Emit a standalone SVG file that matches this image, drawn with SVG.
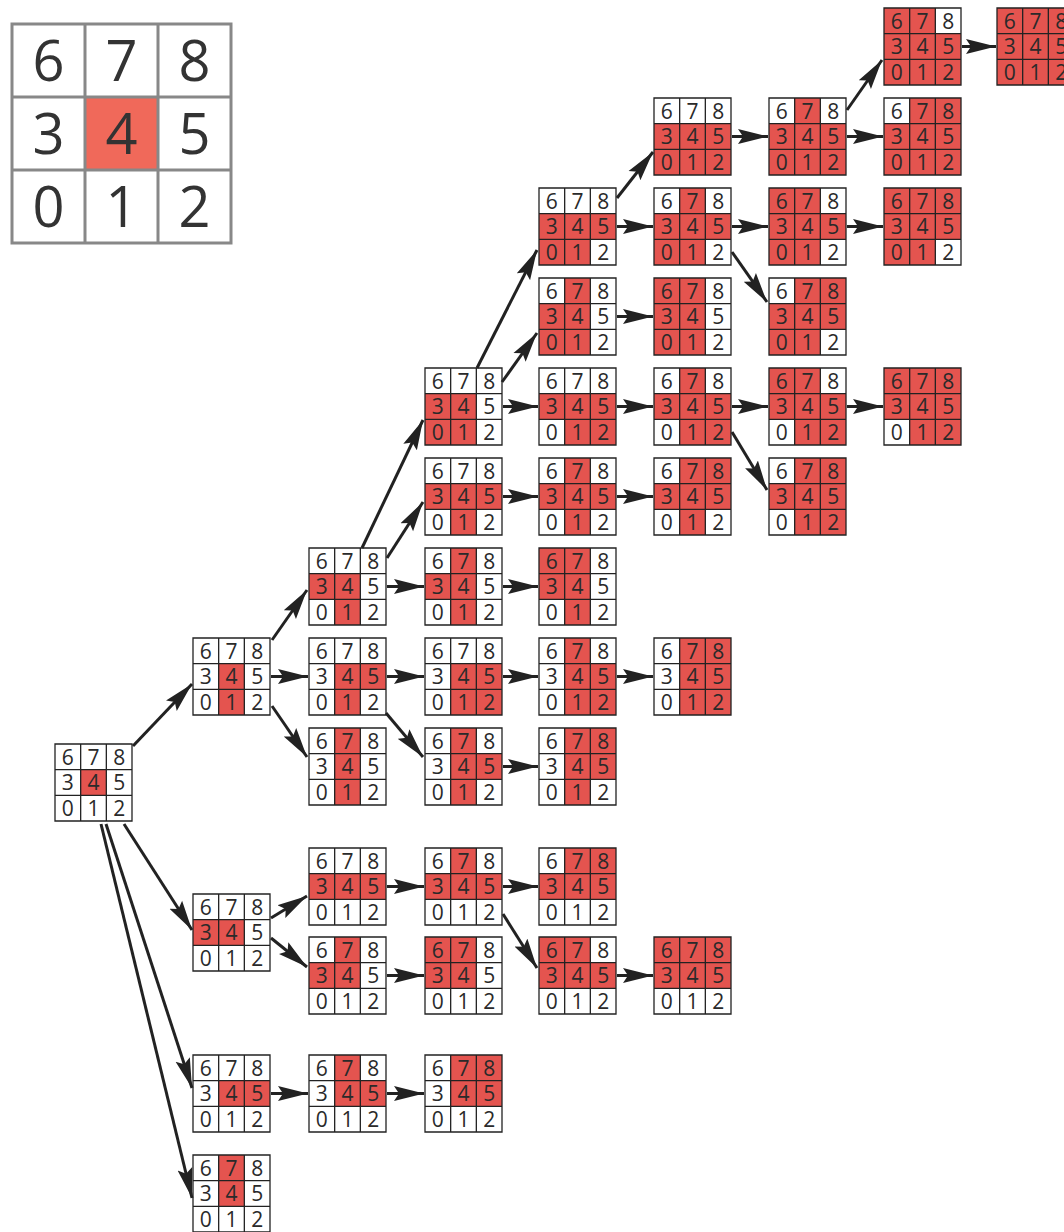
<svg xmlns="http://www.w3.org/2000/svg" xmlns:xlink="http://www.w3.org/1999/xlink" width="1064" height="1232" viewBox="0 0 1064 1232">
<style>
.t{font-family:"Open Sans","Noto Sans","Liberation Sans",sans-serif;font-size:21px;fill:#2a2a2a;text-anchor:middle}
.bt{font-family:"Open Sans","Noto Sans","Liberation Sans",sans-serif;font-size:56px;fill:#333;text-anchor:middle}
.r{fill:#e4544f}
.grid{fill:none;stroke:#222;stroke-width:1.3}
.edge{stroke:#222;stroke-width:3;fill:none;marker-end:url(#ah)}
</style>
<defs>
<marker id="ah" markerUnits="userSpaceOnUse" markerWidth="32" markerHeight="16" viewBox="0 0 32 16" refX="30" refY="8" orient="auto">
<path d="M0,0.5 L30,8 L0,15.5 L5,8 Z" fill="#222"/>
</marker>
<rect id="c6" class="r" x="0" y="0" width="25.67" height="25.67"/>
<rect id="c7" class="r" x="25.67" y="0" width="25.67" height="25.67"/>
<rect id="c8" class="r" x="51.33" y="0" width="25.67" height="25.67"/>
<rect id="c3" class="r" x="0" y="25.67" width="25.67" height="25.67"/>
<rect id="c4" class="r" x="25.67" y="25.67" width="25.67" height="25.67"/>
<rect id="c5" class="r" x="51.33" y="25.67" width="25.67" height="25.67"/>
<rect id="c0" class="r" x="0" y="51.33" width="25.67" height="25.67"/>
<rect id="c1" class="r" x="25.67" y="51.33" width="25.67" height="25.67"/>
<rect id="c2" class="r" x="51.33" y="51.33" width="25.67" height="25.67"/>
<path id="gr" class="grid" d="M0,0H77V77H0Z M25.67,0V77 M51.33,0V77 M0,25.67H77 M0,51.33H77"/>
</defs>
<rect width="1064" height="1232" fill="#fff"/>

<g id="legend" transform="translate(12,24)">
<rect x="73" y="73" width="73" height="73" fill="#f0695a"/>
<path d="M0,0H219V219H0Z M73,0V219 M146,0V219 M0,73H219 M0,146H219" fill="none" stroke="#888" stroke-width="3"/>
<text class="bt" x="36.5 109.5 182.5" y="56.5">678</text>
<text class="bt" x="36.5 109.5 182.5" y="129.5">345</text>
<text class="bt" x="36.5 109.5 182.5" y="202.5">012</text>
</g>

<g id="connectors">
<line class="edge" x1="133" y1="746" x2="192" y2="684"/>
<line class="edge" x1="124" y1="824" x2="192" y2="930"/>
<line class="edge" x1="106" y1="824" x2="192" y2="1088"/>
<line class="edge" x1="101" y1="824" x2="192" y2="1198"/>
<line class="edge" x1="272" y1="640" x2="307" y2="590"/>
<line class="edge" x1="271" y1="676.5" x2="308" y2="676.5"/>
<line class="edge" x1="272" y1="706" x2="307" y2="757"/>
<line class="edge" x1="362" y1="548" x2="423" y2="420"/>
<line class="edge" x1="387" y1="558" x2="423" y2="502"/>
<line class="edge" x1="387" y1="586.5" x2="424" y2="586.5"/>
<line class="edge" x1="387" y1="676.5" x2="424" y2="676.5"/>
<line class="edge" x1="386" y1="713" x2="423" y2="757"/>
<line class="edge" x1="503" y1="676.5" x2="538" y2="676.5"/>
<line class="edge" x1="617" y1="676.5" x2="653" y2="676.5"/>
<line class="edge" x1="503" y1="766.5" x2="538" y2="766.5"/>
<line class="edge" x1="503" y1="586.5" x2="538" y2="586.5"/>
<line class="edge" x1="503" y1="496.5" x2="538" y2="496.5"/>
<line class="edge" x1="617" y1="496.5" x2="653" y2="496.5"/>
<line class="edge" x1="503" y1="406.5" x2="538" y2="406.5"/>
<line class="edge" x1="617" y1="406.5" x2="653" y2="406.5"/>
<line class="edge" x1="732" y1="406.5" x2="768" y2="406.5"/>
<line class="edge" x1="847" y1="406.5" x2="883" y2="406.5"/>
<line class="edge" x1="502" y1="382" x2="537" y2="333"/>
<line class="edge" x1="477" y1="368" x2="537" y2="250"/>
<line class="edge" x1="732" y1="432" x2="767" y2="490"/>
<line class="edge" x1="617" y1="316.5" x2="653" y2="316.5"/>
<line class="edge" x1="617" y1="226.5" x2="653" y2="226.5"/>
<line class="edge" x1="732" y1="226.5" x2="768" y2="226.5"/>
<line class="edge" x1="847" y1="226.5" x2="883" y2="226.5"/>
<line class="edge" x1="617" y1="198" x2="653" y2="152"/>
<line class="edge" x1="732" y1="252" x2="767" y2="302"/>
<line class="edge" x1="732" y1="136.5" x2="768" y2="136.5"/>
<line class="edge" x1="847" y1="136.5" x2="883" y2="136.5"/>
<line class="edge" x1="847" y1="110" x2="882" y2="60"/>
<line class="edge" x1="962" y1="46.5" x2="996" y2="46.5"/>
<line class="edge" x1="271" y1="918" x2="307" y2="896"/>
<line class="edge" x1="271" y1="938" x2="307" y2="967"/>
<line class="edge" x1="387" y1="886.5" x2="424" y2="886.5"/>
<line class="edge" x1="503" y1="886.5" x2="538" y2="886.5"/>
<line class="edge" x1="503" y1="914" x2="537" y2="968"/>
<line class="edge" x1="387" y1="975.5" x2="424" y2="975.5"/>
<line class="edge" x1="617" y1="975.5" x2="653" y2="975.5"/>
<line class="edge" x1="271" y1="1093.5" x2="308" y2="1093.5"/>
<line class="edge" x1="387" y1="1093.5" x2="424" y2="1093.5"/>
</g>

<g id="n0" transform="translate(55,744)"><use href="#c4"/><use href="#gr"/><text class="t" x="12.8 38.5 64.2" y="20.5">678</text><text class="t" x="12.8 38.5 64.2" y="46.2">345</text><text class="t" x="12.8 38.5 64.2" y="71.8">012</text></g>
<g id="n1" transform="translate(193,638)"><use href="#c4"/><use href="#c1"/><use href="#gr"/><text class="t" x="12.8 38.5 64.2" y="20.5">678</text><text class="t" x="12.8 38.5 64.2" y="46.2">345</text><text class="t" x="12.8 38.5 64.2" y="71.8">012</text></g>
<g id="n2" transform="translate(193,894)"><use href="#c3"/><use href="#c4"/><use href="#gr"/><text class="t" x="12.8 38.5 64.2" y="20.5">678</text><text class="t" x="12.8 38.5 64.2" y="46.2">345</text><text class="t" x="12.8 38.5 64.2" y="71.8">012</text></g>
<g id="n3" transform="translate(193,1055)"><use href="#c4"/><use href="#c5"/><use href="#gr"/><text class="t" x="12.8 38.5 64.2" y="20.5">678</text><text class="t" x="12.8 38.5 64.2" y="46.2">345</text><text class="t" x="12.8 38.5 64.2" y="71.8">012</text></g>
<g id="n4" transform="translate(193,1155)"><use href="#c7"/><use href="#c4"/><use href="#gr"/><text class="t" x="12.8 38.5 64.2" y="20.5">678</text><text class="t" x="12.8 38.5 64.2" y="46.2">345</text><text class="t" x="12.8 38.5 64.2" y="71.8">012</text></g>

<g id="n5" transform="translate(309,548)"><use href="#c3"/><use href="#c4"/><use href="#c1"/><use href="#gr"/><text class="t" x="12.8 38.5 64.2" y="20.5">678</text><text class="t" x="12.8 38.5 64.2" y="46.2">345</text><text class="t" x="12.8 38.5 64.2" y="71.8">012</text></g>
<g id="n6" transform="translate(309,638)"><use href="#c4"/><use href="#c5"/><use href="#c1"/><use href="#gr"/><text class="t" x="12.8 38.5 64.2" y="20.5">678</text><text class="t" x="12.8 38.5 64.2" y="46.2">345</text><text class="t" x="12.8 38.5 64.2" y="71.8">012</text></g>
<g id="n7" transform="translate(309,728)"><use href="#c7"/><use href="#c4"/><use href="#c1"/><use href="#gr"/><text class="t" x="12.8 38.5 64.2" y="20.5">678</text><text class="t" x="12.8 38.5 64.2" y="46.2">345</text><text class="t" x="12.8 38.5 64.2" y="71.8">012</text></g>
<g id="n8" transform="translate(309,848)"><use href="#c3"/><use href="#c4"/><use href="#c5"/><use href="#gr"/><text class="t" x="12.8 38.5 64.2" y="20.5">678</text><text class="t" x="12.8 38.5 64.2" y="46.2">345</text><text class="t" x="12.8 38.5 64.2" y="71.8">012</text></g>
<g id="n9" transform="translate(309,937)"><use href="#c7"/><use href="#c3"/><use href="#c4"/><use href="#gr"/><text class="t" x="12.8 38.5 64.2" y="20.5">678</text><text class="t" x="12.8 38.5 64.2" y="46.2">345</text><text class="t" x="12.8 38.5 64.2" y="71.8">012</text></g>
<g id="n10" transform="translate(309,1055)"><use href="#c7"/><use href="#c4"/><use href="#c5"/><use href="#gr"/><text class="t" x="12.8 38.5 64.2" y="20.5">678</text><text class="t" x="12.8 38.5 64.2" y="46.2">345</text><text class="t" x="12.8 38.5 64.2" y="71.8">012</text></g>

<g id="n11" transform="translate(425,368)"><use href="#c3"/><use href="#c4"/><use href="#c0"/><use href="#c1"/><use href="#gr"/><text class="t" x="12.8 38.5 64.2" y="20.5">678</text><text class="t" x="12.8 38.5 64.2" y="46.2">345</text><text class="t" x="12.8 38.5 64.2" y="71.8">012</text></g>
<g id="n12" transform="translate(425,458)"><use href="#c3"/><use href="#c4"/><use href="#c5"/><use href="#c1"/><use href="#gr"/><text class="t" x="12.8 38.5 64.2" y="20.5">678</text><text class="t" x="12.8 38.5 64.2" y="46.2">345</text><text class="t" x="12.8 38.5 64.2" y="71.8">012</text></g>
<g id="n13" transform="translate(425,548)"><use href="#c7"/><use href="#c3"/><use href="#c4"/><use href="#c1"/><use href="#gr"/><text class="t" x="12.8 38.5 64.2" y="20.5">678</text><text class="t" x="12.8 38.5 64.2" y="46.2">345</text><text class="t" x="12.8 38.5 64.2" y="71.8">012</text></g>
<g id="n14" transform="translate(425,638)"><use href="#c4"/><use href="#c5"/><use href="#c1"/><use href="#c2"/><use href="#gr"/><text class="t" x="12.8 38.5 64.2" y="20.5">678</text><text class="t" x="12.8 38.5 64.2" y="46.2">345</text><text class="t" x="12.8 38.5 64.2" y="71.8">012</text></g>
<g id="n15" transform="translate(425,728)"><use href="#c7"/><use href="#c4"/><use href="#c5"/><use href="#c1"/><use href="#gr"/><text class="t" x="12.8 38.5 64.2" y="20.5">678</text><text class="t" x="12.8 38.5 64.2" y="46.2">345</text><text class="t" x="12.8 38.5 64.2" y="71.8">012</text></g>
<g id="n16" transform="translate(425,848)"><use href="#c7"/><use href="#c3"/><use href="#c4"/><use href="#c5"/><use href="#gr"/><text class="t" x="12.8 38.5 64.2" y="20.5">678</text><text class="t" x="12.8 38.5 64.2" y="46.2">345</text><text class="t" x="12.8 38.5 64.2" y="71.8">012</text></g>
<g id="n17" transform="translate(425,937)"><use href="#c6"/><use href="#c7"/><use href="#c3"/><use href="#c4"/><use href="#gr"/><text class="t" x="12.8 38.5 64.2" y="20.5">678</text><text class="t" x="12.8 38.5 64.2" y="46.2">345</text><text class="t" x="12.8 38.5 64.2" y="71.8">012</text></g>
<g id="n18" transform="translate(425,1055)"><use href="#c7"/><use href="#c8"/><use href="#c4"/><use href="#c5"/><use href="#gr"/><text class="t" x="12.8 38.5 64.2" y="20.5">678</text><text class="t" x="12.8 38.5 64.2" y="46.2">345</text><text class="t" x="12.8 38.5 64.2" y="71.8">012</text></g>

<g id="n19" transform="translate(539,188)"><use href="#c3"/><use href="#c4"/><use href="#c5"/><use href="#c0"/><use href="#c1"/><use href="#gr"/><text class="t" x="12.8 38.5 64.2" y="20.5">678</text><text class="t" x="12.8 38.5 64.2" y="46.2">345</text><text class="t" x="12.8 38.5 64.2" y="71.8">012</text></g>
<g id="n20" transform="translate(539,278)"><use href="#c7"/><use href="#c3"/><use href="#c4"/><use href="#c0"/><use href="#c1"/><use href="#gr"/><text class="t" x="12.8 38.5 64.2" y="20.5">678</text><text class="t" x="12.8 38.5 64.2" y="46.2">345</text><text class="t" x="12.8 38.5 64.2" y="71.8">012</text></g>
<g id="n21" transform="translate(539,368)"><use href="#c3"/><use href="#c4"/><use href="#c5"/><use href="#c1"/><use href="#c2"/><use href="#gr"/><text class="t" x="12.8 38.5 64.2" y="20.5">678</text><text class="t" x="12.8 38.5 64.2" y="46.2">345</text><text class="t" x="12.8 38.5 64.2" y="71.8">012</text></g>
<g id="n22" transform="translate(539,458)"><use href="#c7"/><use href="#c3"/><use href="#c4"/><use href="#c5"/><use href="#c1"/><use href="#gr"/><text class="t" x="12.8 38.5 64.2" y="20.5">678</text><text class="t" x="12.8 38.5 64.2" y="46.2">345</text><text class="t" x="12.8 38.5 64.2" y="71.8">012</text></g>
<g id="n23" transform="translate(539,548)"><use href="#c6"/><use href="#c7"/><use href="#c3"/><use href="#c4"/><use href="#c1"/><use href="#gr"/><text class="t" x="12.8 38.5 64.2" y="20.5">678</text><text class="t" x="12.8 38.5 64.2" y="46.2">345</text><text class="t" x="12.8 38.5 64.2" y="71.8">012</text></g>
<g id="n24" transform="translate(539,638)"><use href="#c7"/><use href="#c4"/><use href="#c5"/><use href="#c1"/><use href="#c2"/><use href="#gr"/><text class="t" x="12.8 38.5 64.2" y="20.5">678</text><text class="t" x="12.8 38.5 64.2" y="46.2">345</text><text class="t" x="12.8 38.5 64.2" y="71.8">012</text></g>
<g id="n25" transform="translate(539,728)"><use href="#c7"/><use href="#c8"/><use href="#c4"/><use href="#c5"/><use href="#c1"/><use href="#gr"/><text class="t" x="12.8 38.5 64.2" y="20.5">678</text><text class="t" x="12.8 38.5 64.2" y="46.2">345</text><text class="t" x="12.8 38.5 64.2" y="71.8">012</text></g>
<g id="n26" transform="translate(539,848)"><use href="#c7"/><use href="#c8"/><use href="#c3"/><use href="#c4"/><use href="#c5"/><use href="#gr"/><text class="t" x="12.8 38.5 64.2" y="20.5">678</text><text class="t" x="12.8 38.5 64.2" y="46.2">345</text><text class="t" x="12.8 38.5 64.2" y="71.8">012</text></g>
<g id="n27" transform="translate(539,937)"><use href="#c6"/><use href="#c7"/><use href="#c3"/><use href="#c4"/><use href="#c5"/><use href="#gr"/><text class="t" x="12.8 38.5 64.2" y="20.5">678</text><text class="t" x="12.8 38.5 64.2" y="46.2">345</text><text class="t" x="12.8 38.5 64.2" y="71.8">012</text></g>

<g id="n28" transform="translate(654,98)"><use href="#c3"/><use href="#c4"/><use href="#c5"/><use href="#c0"/><use href="#c1"/><use href="#c2"/><use href="#gr"/><text class="t" x="12.8 38.5 64.2" y="20.5">678</text><text class="t" x="12.8 38.5 64.2" y="46.2">345</text><text class="t" x="12.8 38.5 64.2" y="71.8">012</text></g>
<g id="n29" transform="translate(654,188)"><use href="#c7"/><use href="#c3"/><use href="#c4"/><use href="#c5"/><use href="#c0"/><use href="#c1"/><use href="#gr"/><text class="t" x="12.8 38.5 64.2" y="20.5">678</text><text class="t" x="12.8 38.5 64.2" y="46.2">345</text><text class="t" x="12.8 38.5 64.2" y="71.8">012</text></g>
<g id="n30" transform="translate(654,278)"><use href="#c6"/><use href="#c7"/><use href="#c3"/><use href="#c4"/><use href="#c0"/><use href="#c1"/><use href="#gr"/><text class="t" x="12.8 38.5 64.2" y="20.5">678</text><text class="t" x="12.8 38.5 64.2" y="46.2">345</text><text class="t" x="12.8 38.5 64.2" y="71.8">012</text></g>
<g id="n31" transform="translate(654,368)"><use href="#c7"/><use href="#c3"/><use href="#c4"/><use href="#c5"/><use href="#c1"/><use href="#c2"/><use href="#gr"/><text class="t" x="12.8 38.5 64.2" y="20.5">678</text><text class="t" x="12.8 38.5 64.2" y="46.2">345</text><text class="t" x="12.8 38.5 64.2" y="71.8">012</text></g>
<g id="n32" transform="translate(654,458)"><use href="#c7"/><use href="#c8"/><use href="#c3"/><use href="#c4"/><use href="#c5"/><use href="#c1"/><use href="#gr"/><text class="t" x="12.8 38.5 64.2" y="20.5">678</text><text class="t" x="12.8 38.5 64.2" y="46.2">345</text><text class="t" x="12.8 38.5 64.2" y="71.8">012</text></g>
<g id="n33" transform="translate(654,638)"><use href="#c7"/><use href="#c8"/><use href="#c4"/><use href="#c5"/><use href="#c1"/><use href="#c2"/><use href="#gr"/><text class="t" x="12.8 38.5 64.2" y="20.5">678</text><text class="t" x="12.8 38.5 64.2" y="46.2">345</text><text class="t" x="12.8 38.5 64.2" y="71.8">012</text></g>
<g id="n34" transform="translate(654,937)"><use href="#c6"/><use href="#c7"/><use href="#c8"/><use href="#c3"/><use href="#c4"/><use href="#c5"/><use href="#gr"/><text class="t" x="12.8 38.5 64.2" y="20.5">678</text><text class="t" x="12.8 38.5 64.2" y="46.2">345</text><text class="t" x="12.8 38.5 64.2" y="71.8">012</text></g>

<g id="n35" transform="translate(769,98)"><use href="#c7"/><use href="#c3"/><use href="#c4"/><use href="#c5"/><use href="#c0"/><use href="#c1"/><use href="#c2"/><use href="#gr"/><text class="t" x="12.8 38.5 64.2" y="20.5">678</text><text class="t" x="12.8 38.5 64.2" y="46.2">345</text><text class="t" x="12.8 38.5 64.2" y="71.8">012</text></g>
<g id="n36" transform="translate(769,188)"><use href="#c6"/><use href="#c7"/><use href="#c3"/><use href="#c4"/><use href="#c5"/><use href="#c0"/><use href="#c1"/><use href="#gr"/><text class="t" x="12.8 38.5 64.2" y="20.5">678</text><text class="t" x="12.8 38.5 64.2" y="46.2">345</text><text class="t" x="12.8 38.5 64.2" y="71.8">012</text></g>
<g id="n37" transform="translate(769,278)"><use href="#c7"/><use href="#c8"/><use href="#c3"/><use href="#c4"/><use href="#c5"/><use href="#c0"/><use href="#c1"/><use href="#gr"/><text class="t" x="12.8 38.5 64.2" y="20.5">678</text><text class="t" x="12.8 38.5 64.2" y="46.2">345</text><text class="t" x="12.8 38.5 64.2" y="71.8">012</text></g>
<g id="n38" transform="translate(769,368)"><use href="#c6"/><use href="#c7"/><use href="#c3"/><use href="#c4"/><use href="#c5"/><use href="#c1"/><use href="#c2"/><use href="#gr"/><text class="t" x="12.8 38.5 64.2" y="20.5">678</text><text class="t" x="12.8 38.5 64.2" y="46.2">345</text><text class="t" x="12.8 38.5 64.2" y="71.8">012</text></g>
<g id="n39" transform="translate(769,458)"><use href="#c7"/><use href="#c8"/><use href="#c3"/><use href="#c4"/><use href="#c5"/><use href="#c1"/><use href="#c2"/><use href="#gr"/><text class="t" x="12.8 38.5 64.2" y="20.5">678</text><text class="t" x="12.8 38.5 64.2" y="46.2">345</text><text class="t" x="12.8 38.5 64.2" y="71.8">012</text></g>

<g id="n40" transform="translate(884,8)"><use href="#c6"/><use href="#c7"/><use href="#c3"/><use href="#c4"/><use href="#c5"/><use href="#c0"/><use href="#c1"/><use href="#c2"/><use href="#gr"/><text class="t" x="12.8 38.5 64.2" y="20.5">678</text><text class="t" x="12.8 38.5 64.2" y="46.2">345</text><text class="t" x="12.8 38.5 64.2" y="71.8">012</text></g>
<g id="n41" transform="translate(884,98)"><use href="#c7"/><use href="#c8"/><use href="#c3"/><use href="#c4"/><use href="#c5"/><use href="#c0"/><use href="#c1"/><use href="#c2"/><use href="#gr"/><text class="t" x="12.8 38.5 64.2" y="20.5">678</text><text class="t" x="12.8 38.5 64.2" y="46.2">345</text><text class="t" x="12.8 38.5 64.2" y="71.8">012</text></g>
<g id="n42" transform="translate(884,188)"><use href="#c6"/><use href="#c7"/><use href="#c8"/><use href="#c3"/><use href="#c4"/><use href="#c5"/><use href="#c0"/><use href="#c1"/><use href="#gr"/><text class="t" x="12.8 38.5 64.2" y="20.5">678</text><text class="t" x="12.8 38.5 64.2" y="46.2">345</text><text class="t" x="12.8 38.5 64.2" y="71.8">012</text></g>
<g id="n43" transform="translate(884,368)"><use href="#c6"/><use href="#c7"/><use href="#c8"/><use href="#c3"/><use href="#c4"/><use href="#c5"/><use href="#c1"/><use href="#c2"/><use href="#gr"/><text class="t" x="12.8 38.5 64.2" y="20.5">678</text><text class="t" x="12.8 38.5 64.2" y="46.2">345</text><text class="t" x="12.8 38.5 64.2" y="71.8">012</text></g>

<g id="n44" transform="translate(997,8)"><use href="#c6"/><use href="#c7"/><use href="#c8"/><use href="#c3"/><use href="#c4"/><use href="#c5"/><use href="#c0"/><use href="#c1"/><use href="#c2"/><use href="#gr"/><text class="t" x="12.8 38.5 64.2" y="20.5">678</text><text class="t" x="12.8 38.5 64.2" y="46.2">345</text><text class="t" x="12.8 38.5 64.2" y="71.8">012</text></g>
</svg>
